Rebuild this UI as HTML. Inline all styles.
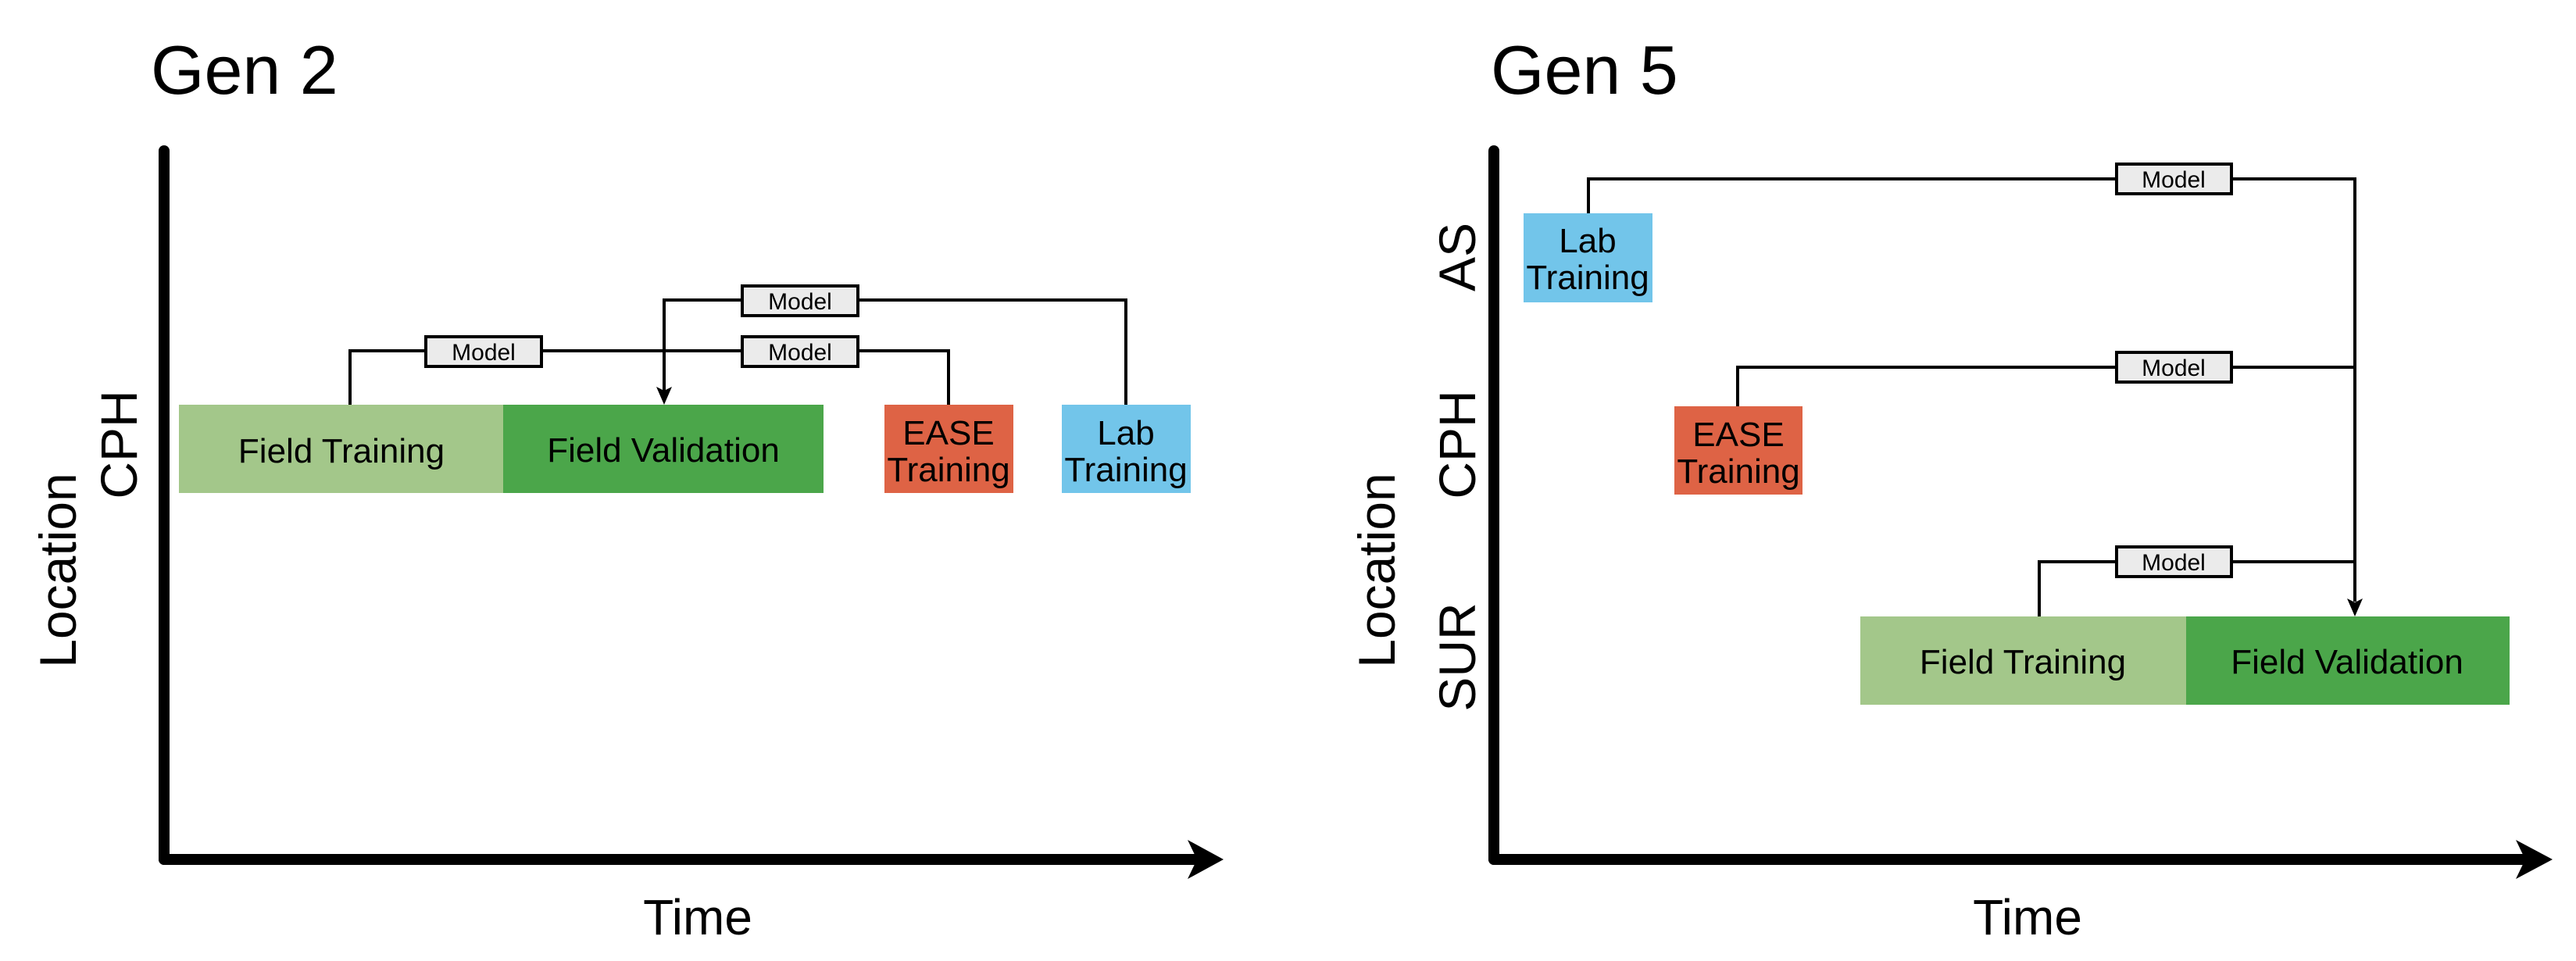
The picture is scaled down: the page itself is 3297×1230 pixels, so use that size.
<!DOCTYPE html>
<html><head><meta charset="utf-8"><style>
html,body{margin:0;padding:0;background:#fff;}
svg{display:block;}
text{font-family:"Liberation Sans",Arial,sans-serif;fill:#000;}
</style></head><body>
<svg width="3297" height="1230" viewBox="0 0 3297 1230" xmlns="http://www.w3.org/2000/svg">
<!-- ===== Gen 2 ===== -->
<text x="193" y="120" font-size="88">Gen 2</text>
<line x1="210" y1="193" x2="210" y2="1100" stroke="#000" stroke-width="14" stroke-linecap="round"/>
<line x1="210" y1="1100" x2="1535" y2="1100" stroke="#000" stroke-width="14" stroke-linecap="round"/>
<polygon points="1520,1075 1566,1100 1520,1125 1532,1100" fill="#000"/>
<text transform="translate(175,569) rotate(-90)" font-size="66" text-anchor="middle">CPH</text>
<text transform="translate(97,730) rotate(-90)" font-size="66" text-anchor="middle">Location</text>
<text x="893" y="1196" font-size="64" text-anchor="middle">Time</text>

<rect x="229" y="518" width="415" height="113" fill="#a3c78a"/>
<rect x="644" y="518" width="410" height="113" fill="#4ba64a"/>
<rect x="1132" y="518" width="165" height="113" fill="#de6345"/>
<rect x="1359" y="518" width="165" height="113" fill="#72c5ea"/>
<text x="437" y="592" font-size="44" text-anchor="middle">Field Training</text>
<text x="849" y="591" font-size="44" text-anchor="middle">Field Validation</text>
<text x="1214" y="569" font-size="44" text-anchor="middle">EASE</text>
<text x="1214" y="616" font-size="44" text-anchor="middle">Training</text>
<text x="1441" y="569" font-size="44" text-anchor="middle">Lab</text>
<text x="1441" y="616" font-size="44" text-anchor="middle">Training</text>

<g fill="none" stroke="#000" stroke-width="4">
<polyline points="448,518 448,449 1214,449 1214,518"/>
<polyline points="850,500 850,384 1441,384 1441,518"/>
</g>
<polygon points="840,495 850,518 860,495 850,500" fill="#000"/>
<g stroke="#000" stroke-width="4" fill="#ebebeb">
<rect x="545" y="431" width="148" height="38"/>
<rect x="950" y="431" width="148" height="38"/>
<rect x="950" y="366" width="148" height="38"/>
</g>
<g font-size="30" text-anchor="middle">
<text x="619" y="461">Model</text>
<text x="1024" y="461">Model</text>
<text x="1024" y="396">Model</text>
</g>

<!-- ===== Gen 5 ===== -->
<text x="1908" y="120" font-size="88">Gen 5</text>
<line x1="1912" y1="193" x2="1912" y2="1100" stroke="#000" stroke-width="14" stroke-linecap="round"/>
<line x1="1912" y1="1100" x2="3235" y2="1100" stroke="#000" stroke-width="14" stroke-linecap="round"/>
<polygon points="3220,1075 3267,1100 3220,1125 3232,1100" fill="#000"/>
<text transform="translate(1888,329) rotate(-90)" font-size="66" text-anchor="middle">AS</text>
<text transform="translate(1888,569) rotate(-90)" font-size="66" text-anchor="middle">CPH</text>
<text transform="translate(1888,841) rotate(-90)" font-size="66" text-anchor="middle">SUR</text>
<text transform="translate(1785,730) rotate(-90)" font-size="66" text-anchor="middle">Location</text>
<text x="2595" y="1196" font-size="64" text-anchor="middle">Time</text>

<rect x="1950" y="273" width="165" height="114" fill="#72c5ea"/>
<rect x="2143" y="520" width="164" height="113" fill="#de6345"/>
<rect x="2381" y="789" width="417" height="113" fill="#a3c78a"/>
<rect x="2798" y="789" width="414" height="113" fill="#4ba64a"/>
<text x="2032" y="323" font-size="44" text-anchor="middle">Lab</text>
<text x="2032" y="370" font-size="44" text-anchor="middle">Training</text>
<text x="2225" y="571" font-size="44" text-anchor="middle">EASE</text>
<text x="2225" y="618" font-size="44" text-anchor="middle">Training</text>
<text x="2589" y="862" font-size="44" text-anchor="middle">Field Training</text>
<text x="3004" y="862" font-size="44" text-anchor="middle">Field Validation</text>

<g fill="none" stroke="#000" stroke-width="4">
<polyline points="2033,273 2033,229 3014,229 3014,770"/>
<polyline points="2224,520 2224,470 3014,470"/>
<polyline points="2610,789 2610,719 3014,719"/>
</g>
<polygon points="3004,766 3014,789 3024,766 3014,771" fill="#000"/>
<g stroke="#000" stroke-width="4" fill="#ebebeb">
<rect x="2709" y="210" width="147" height="38"/>
<rect x="2709" y="451" width="147" height="38"/>
<rect x="2709" y="700" width="147" height="38"/>
</g>
<g font-size="30" text-anchor="middle">
<text x="2782" y="240">Model</text>
<text x="2782" y="481">Model</text>
<text x="2782" y="730">Model</text>
</g>
</svg>
</body></html>
